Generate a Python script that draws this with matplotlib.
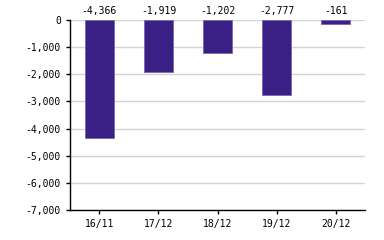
import matplotlib
matplotlib.use("Agg")
import matplotlib.pyplot as plt
from matplotlib.ticker import FuncFormatter

# data
categories = ["16/11", "17/12", "18/12", "19/12", "20/12"]
values = [-4366, -1919, -1202, -2777, -161]

plt.rcParams['font.family'] = ['DejaVu Sans Mono']

fig = plt.figure(figsize=(3.84, 2.4), dpi=100)
ax = fig.add_axes([0.182, 0.125, 0.769, 0.792])

x = range(len(categories))
ax.bar(x, values, width=0.5, color="#3a1f85", edgecolor="#7a66b8", linewidth=0.6, zorder=3)

for xi, v in zip(x, values):
    ax.text(xi, 150, f"{v:,}", ha="center", va="bottom", fontsize=7, color="black")

ax.set_xlim(-0.5, len(categories) - 0.5)
ax.set_ylim(-7000, 0)
ax.set_yticks(range(-7000, 1, 1000))
ax.yaxis.set_major_formatter(FuncFormatter(lambda v, p: f"{int(v):,}"))
ax.set_xticks(list(x))
ax.set_xticklabels(categories)
ax.tick_params(labelsize=7, length=3, width=1, colors="black")
ax.grid(axis="y", color="#d4d4d4", linewidth=1, zorder=0)
ax.spines["top"].set_visible(False)
ax.spines["right"].set_visible(False)
ax.spines["left"].set_linewidth(1)
ax.spines["bottom"].set_linewidth(1)

fig.savefig("out.png", dpi=100)
